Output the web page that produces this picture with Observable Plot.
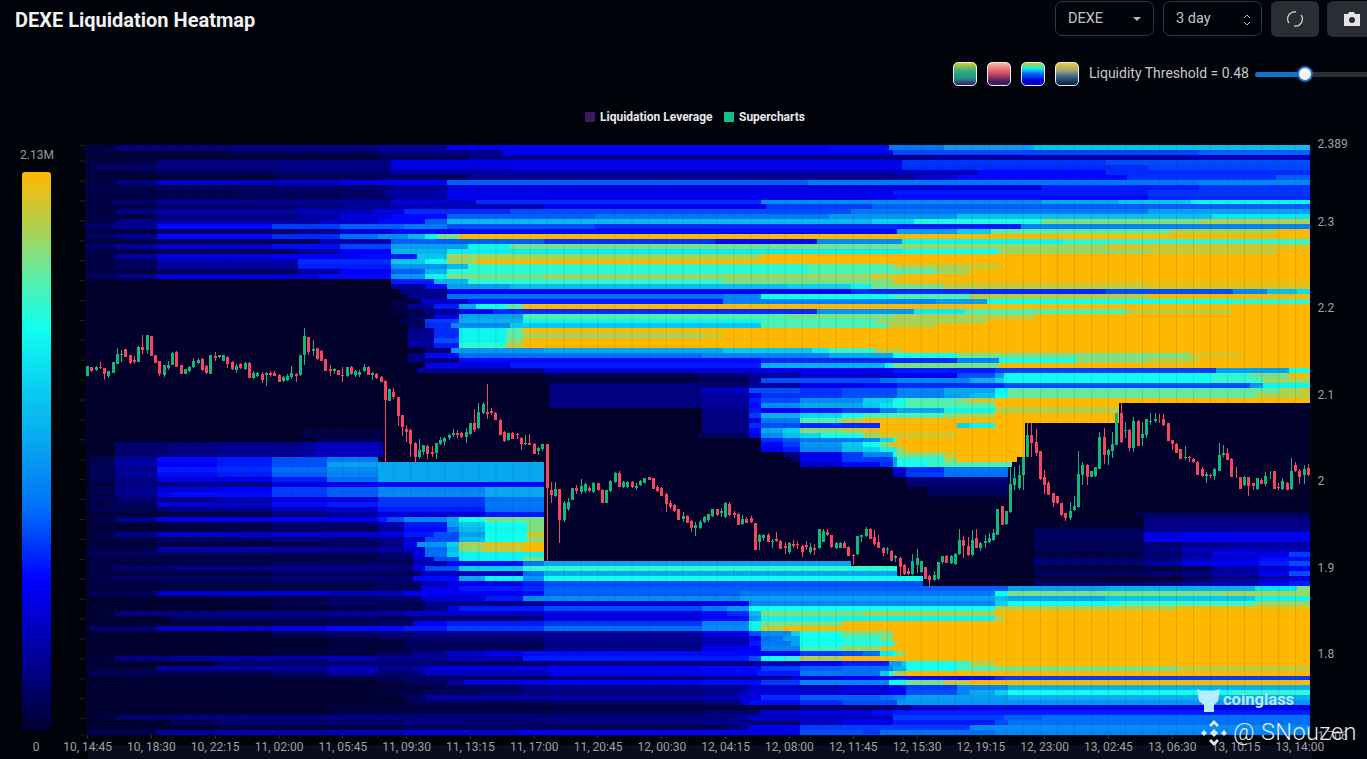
<!DOCTYPE html>
<html><head><meta charset="utf-8">
<script src="https://cdn.jsdelivr.net/npm/d3@7"></script>
<script src="https://cdn.jsdelivr.net/npm/@observablehq/plot@0.6"></script>
<style>
html,body{margin:0;height:759px;overflow:hidden;background:#01030a;font-family:Roboto,sans-serif;color:#ccc}
.abs{position:absolute;white-space:nowrap}
#chart{position:absolute;left:0;top:0;width:1367px;height:759px}
#chart svg{background:transparent;display:block}
.sel{border:1px solid #33363c;border-radius:7px;height:35px;top:1px;box-sizing:border-box;line-height:33px;font-size:14.5px;color:#c4c4c4;padding-left:12px}
.btn{background:#2a2d33;border-radius:6px;height:36px;top:1px}
.sw{top:62px;width:22px;height:22px;border:1px solid #eee;border-radius:5px}
</style></head><body>
<div style="position:absolute;left:88px;top:745px;width:1224px;height:14px;background:#080c1c"></div>
<div id="chart"></div>
<div class="abs" id="title" style="left:15px;top:8px;font-size:20px;font-weight:700;color:#f2f2f2">DEXE Liquidation Heatmap</div>
<div class="abs sel" style="left:1055px;width:99px">DEXE<span style="position:absolute;left:77px;top:15px;border:4px solid transparent;border-top:4px solid #bbb"></span></div>
<div class="abs sel" style="left:1163px;width:99px">3 day<svg style="position:absolute;left:78px;top:10px" width="10" height="16"><path d="M2 6l3-3 3 3M2 10l3 3 3-3" stroke="#bbb" fill="none"/></svg></div>
<div class="abs btn" style="left:1271px;width:48px"><svg style="position:absolute;left:15px;top:9px" width="18" height="18"><path d="M3 13A7 7 0 0 1 10 2M15 5A7 7 0 0 1 8 16" stroke="#ccc" fill="none" stroke-width="1.3"/></svg></div>
<div class="abs btn" style="left:1327px;width:40px;border-radius:6px 0 0 6px"><svg style="position:absolute;left:16px;top:10px" width="18" height="16"><path d="M1 3h4l1-2h5l1 2h5v12H1z" fill="#e4e4e4"/><circle cx="9" cy="9" r="3" fill="#2a2d33"/></svg></div>
<div class="abs sw" style="left:953px;background:linear-gradient(#d8c828,#30b080 35%,#209088 70%,#3a1a6a)"></div>
<div class="abs sw" style="left:987px;background:linear-gradient(#f8b8a0,#d85060 45%,#401a60 85%)"></div>
<div class="abs sw" style="left:1021px;background:linear-gradient(#d8c030,#10f0e0 25%,#0060ff 50%,#0000d0 80%)"></div>
<div class="abs sw" style="left:1055px;background:linear-gradient(#e8d030,#a0a080 35%,#306080 65%,#0a1a40)"></div>
<div class="abs" style="left:1089px;top:65px;font-size:14px;color:#c8c8c8">Liquidity Threshold = 0.48</div>
<div class="abs" style="left:1255px;top:72px;width:50px;height:5px;border-radius:3px;background:#1570c8"></div>
<div class="abs" style="left:1305px;top:72px;width:62px;height:5px;background:#2c2e34"></div>
<div class="abs" style="left:1297px;top:66px;width:12px;height:12px;border-radius:50%;background:#f4f6fa;border:2px solid #1570c8"></div>
<div class="abs" style="left:585px;top:112px;width:10px;height:10px;background:#3c1a62"></div>
<div class="abs" style="left:600px;top:110px;font-size:12px;font-weight:700;color:#e8e8e8">Liquidation Leverage</div>
<div class="abs" style="left:724px;top:112px;width:10px;height:10px;background:#10c088"></div>
<div class="abs" style="left:739px;top:110px;font-size:12px;font-weight:700;color:#e8e8e8">Supercharts</div>
<div class="abs" style="left:20px;top:148px;width:32px;text-align:center;font-size:12px;color:#9a9a9a">2.13M</div>
<div class="abs" id="bar" style="left:22px;top:172px;width:29px;height:560px;border-radius:3px"></div>
<div class="abs" style="left:20px;top:740px;width:32px;text-align:center;font-size:12px;color:#9a9a9a">0</div>
<svg class="abs" style="left:1196px;top:686px" width="27" height="27"><path d="M1 3l5 2h12l6-2-2 12-4 4v7h-10v-7l-5-4z" fill="#b6ecfc"/></svg>
<div class="abs" style="left:1223px;top:690px;font-size:16.5px;font-weight:700;color:#b6ecfc">coinglass</div>
<svg class="abs" style="left:1200px;top:719px" width="28" height="28"><g fill="#e6e6e6"><path d="M14 1l5 5-2 2-3-3-3 3-2-2zM14 27l5-5-2-2-3 3-3-3-2 2zM1 14l3-3 3 3-3 3zM27 14l-3-3-3 3 3 3zM14 10l4 4-4 4-4-4z"/></g></svg>
<div class="abs" style="left:1233px;top:718px;font-size:23.5px;font-weight:300;color:#e8e8e8;letter-spacing:.4px">@ SNouzen</div>
<script>
// ---- axes text ----
const priceTicks = [2.389, 2.3, 2.2, 2.1, 2, 1.9, 1.8, 1.706];
const sideTicks = [2.388,2.370,2.347,2.324,2.301,2.278,2.255,2.232,2.209,2.186,2.163,2.140,2.117,2.094,2.071,2.048,2.025,2.002,1.979,1.956,1.933,1.910,1.887,1.864,1.841,1.818,1.795,1.772,1.749,1.726,1.707];
const timeLabels = ["10, 14:45","10, 18:30","10, 22:15","11, 02:00","11, 05:45","11, 09:30","11, 13:15","11, 17:00","11, 20:45","12, 00:30","12, 04:15","12, 08:00","12, 11:45","12, 15:30","12, 19:15","12, 23:00","13, 02:45","13, 06:30","13, 10:15","13, 14:00"];
const timeCols = [0,15,30,45,60,75,90,105,120,135,150,165,180,195,210,225,240,255,270,285];
// ---- colour ramp, liquidity as % of 2.13M ----
const rampLevels = [0,10,27,40,52,60,72,80,90,100];
const rampColors = ["#00002a","#000080","#0000ff","#0070f8","#08a8f0","#08c8f0","#10fff0","#50f0b0","#b0d050","#ffb800"];
const rowTop = 2.388, rowStep = 0.005727;
// ---- heat rows, top to bottom: start candle, level, start candle, level ... ----
const heatRows = [
[0,3,7,10,69,14,85,26,175,28,189,42,202,50,223,58],
[0,3,35,6,69,10,98,24,190,35,262,38],
[0,2,69,6,90,12,200,15,260,18],
[0,3,17,10,72,24,192,33,240,36],
[0,3,2,7,7,8,17,10,72,22,100,24,192,32,250,35],
[0,2,17,6,45,8,72,14,100,15,190,18,210,28,240,32],
[0,2,45,6,72,6,90,12,195,20,205,28,245,33,280,38],
[0,3,7,10,17,20,60,24,69,27,85,38,170,42,262,45],
[0,4,17,6,45,8,72,12,85,22,225,30,262,33],
[0,3,35,6,70,15,85,25,190,30,250,33],
[0,3,17,5,60,8,72,15,85,24,191,28,250,32],
[0,4,7,8,17,14,72,20,92,32,159,46,225,52,243,60,260,70],
[0,3,17,7,50,9,60,12,72,17,108,26,160,34,185,38],
[0,3,7,10,17,15,50,18,68,23,75,32,100,36,180,42,250,50],
[0,3,17,10,50,14,60,22,72,28,85,38,120,42,175,48,205,58,265,66],
[0,4,7,12,17,15,55,20,69,28,80,38,85,56,185,62,195,74,225,85,262,90],
[0,8,7,12,17,28,44,34,60,38,75,42,85,36,120,32,191,30,220,44],
[0,3,17,8,50,12,60,22,72,28,191,50,205,62,213,82,255,90,280,98],
[0,6,7,12,17,28,44,32,60,40,69,46,76,55,80,70,83,85,88,100],
[0,3,17,6,55,16,72,38,108,33,148,28,172,46,192,70,230,76],
[0,8,7,14,17,20,44,28,60,35,72,50,90,70,100,84,192,88,240,95],
[0,3,17,6,50,14,60,26,72,55,85,68,192,72,215,88,250,92,280,100],
[0,4,7,14,17,22,44,26,65,28,72,30,78,60,85,88,159,100],
[0,3,7,6,17,16,50,32,72,60,80,72,85,88,92,100],
[0,3,7,6,17,14,50,30,72,48,85,56,90,76,170,80,190,90,205,93,215,100],
[0,3,17,6,50,15,60,26,72,38,80,55,85,76,170,80,200,88,208,100],
[0,6,7,12,17,22,55,28,72,48,80,70,85,84,108,88,185,95,192,100],
[72,30,82,55,90,76,150,84,190,98],
[72,14,80,28,85,50,100,58,165,62,180,70,185,84,202,92,250,96],
[74,10,85,26,180,32,240,36,270,45,278,58,285,65],
[76,12,85,40,150,44,159,72,190,80,208,92,250,100],
[72,3,79,20,90,30,150,44,200,50,212,72,270,76],
[72,3,76,14,82,30,88,52,92,72,99,82,103,100],
[72,3,80,12,88,24,96,32,172,48,195,68,207,80,245,92,270,100],
[76,6,82,24,88,50,103,80,165,84,190,90,223,100],
[74,6,80,34,88,54,103,70,159,78,186,88,212,100],
[76,6,80,32,86,46,100,60,159,80,189,92,200,100],
[76,12,82,32,88,70,99,80,103,100],
[76,12,82,32,88,70,99,82,103,88,145,93,150,100],
[76,14,82,36,88,70,99,84,103,100],
[76,14,82,30,88,76,99,92,103,100],
[80,8,86,48,108,52,150,60,171,68,175,78,186,92,192,100],
[76,10,80,28,88,40,145,44,175,52,190,72,205,84,260,95,272,100],
[76,10,88,28,159,32,205,44,215,72,233,86,250,92,262,100],
[80,24,88,22,100,30,159,54,188,70,190,84,215,100],
[78,14,108,22,160,26,190,30,214,34,266,50,283,72],
[108,4,144,8,156,14,168,20,191,25,205,36,214,48,216,72,265,76,274,84,283,100],
[108,2,144,5,156,12,159,36,187,40,191,44,208,54,214,62,216,72,265,76,277,88],
[109,10,145,8,156,14,168,24,183,28,191,32,216,36,274,48,277,70],
[109,10,145,20,156,36,168,33,178,36,191,44,202,52,214,70,217,82,281,90,286,95],
[109,10,145,14,156,24,159,33,178,36,191,44,202,50,208,58,214,72,217,82,275,90],
[109,10,145,14,156,30,159,36,168,46,183,62,190,72,193,80,205,86,208,94,214,100],
[109,10,145,14,156,28,159,46,168,52,183,60,187,66,190,74,193,80,214,98,243,0],
[145,10,156,30,159,26,168,30,178,34,187,44,191,52,202,70,214,90,243,0],
[145,10,156,34,159,54,168,64,178,72,183,80,202,86,205,90,214,100,243,0],
[145,10,156,24,159,42,168,80,178,92,183,100,243,0],
[145,10,156,32,159,36,168,32,187,100,205,62,208,70,214,100,221,0],
[51,3,70,0,145,10,156,28,159,52,164,62,168,86,178,92,183,96,187,100,221,0],
[51,3,70,0,144,6,156,24,159,46,164,58,168,64,173,72,183,88,187,94,205,100,221,0],
[54,4,70,0,159,32,164,36,168,42,183,46,187,64,190,72,191,100,221,0],
[7,8,20,10,31,12,51,14,54,18,70,0,159,28,164,34,168,48,178,60,183,72,187,84,189,100,221,0],
[7,8,20,10,31,12,51,14,54,18,70,0,159,24,164,30,168,46,178,58,183,62,187,70,191,88,193,100,221,0],
[7,8,20,10,31,12,51,14,54,18,70,0,164,10,168,24,178,34,183,44,190,72,191,86,202,94,205,100,221,0],
[1,5,7,14,17,28,31,30,44,36,57,42,69,0,166,8,168,26,178,34,190,50,191,74,202,88,205,100,219,0],
[1,5,7,14,17,26,31,30,44,36,57,50,69,52,108,0,168,20,178,28,187,32,190,50,191,72,198,78,202,80,218,0],
[1,5,7,12,17,30,31,32,44,40,57,46,69,52,108,0,190,22,193,32,202,42,217,0],
[1,5,7,14,17,28,31,30,44,38,57,44,69,52,108,0,190,20,193,34,202,40,217,0],
[1,5,7,10,17,22,44,30,57,40,69,52,108,0,193,10,217,0],
[1,2,7,10,20,12,44,22,57,26,69,28,108,0,193,8,217,0],
[1,5,7,12,17,22,31,26,44,34,57,38,69,44,94,52,108,0,198,6,217,0],
[1,3,7,12,17,26,20,28,44,34,57,38,69,46,94,52,108,0,198,5,217,0],
[1,5,7,8,17,12,31,16,44,22,69,33,94,40,108,0],
[1,3,7,6,17,22,20,20,44,28,57,30,69,33,94,42,108,0],
[1,5,7,4,17,8,20,12,44,18,57,20,69,30,94,40,108,0],
[1,2,20,4,44,10,57,14,69,22,94,30,108,0,247,5],
[1,4,7,12,17,24,69,30,71,36,75,44,85,52,88,72,94,84,108,0,249,10],
[1,2,20,4,44,8,69,16,75,30,85,50,88,60,94,72,104,85,108,0,249,10],
[1,2,20,3,31,4,44,6,69,14,75,28,85,42,88,56,94,70,104,85,108,0,223,5,249,12],
[1,3,7,12,17,20,44,22,69,24,75,30,82,36,88,50,94,72,104,95,108,0,223,6,247,8,249,22,258,27],
[1,3,17,6,44,8,69,12,75,20,80,36,88,56,94,72,104,86,108,0,223,6,249,24,258,26,267,24],
[1,2,17,3,44,4,57,6,69,10,75,26,78,48,85,62,88,90,94,96,104,100,108,0,223,5,249,8,258,10,267,14],
[1,4,17,16,44,14,57,12,69,14,75,20,80,40,85,56,88,85,93,92,103,100,108,0,223,5,249,10,258,18],
[1,6,69,8,77,24,80,40,85,60,88,70,108,0,223,2,247,4,249,8,258,14,265,24,283,34],
[1,3,69,6,77,20,82,36,88,70,103,85,108,0,223,8,249,10,258,18,265,20,276,28],
[1,3,20,4,44,6,77,16,85,28,103,42,108,52,180,0,223,8,249,14,258,24,265,26,276,30,283,36],
[1,4,7,8,20,10,44,12,69,10,77,24,80,36,88,62,103,76,191,0,223,3,258,5,265,14,276,20,283,26],
[1,3,44,6,69,5,79,18,103,40,108,52,191,0,223,6,249,8,258,10,265,16,276,26,283,36],
[1,4,7,6,44,8,77,28,88,52,94,70,103,48,108,72,197,0,223,2,258,6,265,10,276,16,283,22],
[1,3,44,5,69,6,79,18,85,24,103,30,108,36,197,0,223,7,249,9,258,14,265,18,276,26,283,30],
[1,2,20,3,57,4,69,6,79,24,88,30,103,32,108,38,217,50,240,54,275,66,285,85],
[1,6,17,20,57,18,75,26,103,28,108,38,154,42,214,72,217,84,268,88],
[1,1,31,3,57,6,69,8,79,22,94,30,103,46,154,50,214,58,217,52,240,60,275,70],
[1,1,44,5,57,8,69,5,80,12,108,20,145,24,156,44,214,62,217,72,243,78,275,88],
[1,1,57,3,69,5,80,10,85,24,88,30,108,36,145,42,151,48,156,72,214,92,257,98],
[1,2,7,10,31,12,57,14,75,20,103,18,108,24,145,28,151,32,156,56,159,85,183,90,214,100],
[1,1,20,7,57,6,69,5,77,8,103,12,108,22,145,28,156,50,159,70,214,88,216,100],
[1,1,44,3,57,5,69,8,77,24,80,26,85,30,108,33,145,44,156,70,159,84,178,100],
[1,8,17,20,44,24,57,28,75,30,85,34,108,40,145,46,156,70,159,92,164,100],
[1,1,44,6,57,8,69,10,77,12,108,14,145,24,156,36,159,46,166,62,168,72,178,84,190,100],
[1,1,57,3,69,5,77,8,108,12,145,18,156,28,159,40,164,50,168,72,178,76,187,85,190,100],
[1,1,57,2,75,6,108,12,145,18,156,30,159,42,166,50,168,72,178,74,190,86,191,100],
[1,1,57,2,75,5,108,10,145,24,154,26,159,44,168,78,178,88,187,96,190,100],
[1,1,44,3,69,6,77,12,85,20,94,26,103,28,159,26,168,34,178,36,183,40,187,68,190,72,191,88,193,100],
[1,2,7,10,20,14,57,16,69,12,85,16,103,30,156,36,159,72,164,76,168,90,178,100],
[1,1,31,7,57,8,109,10,145,12,159,18,168,26,178,30,189,50,192,62,193,72,205,76,208,90,214,100],
[1,2,17,14,57,18,69,12,77,16,80,22,109,26,145,28,159,34,168,38,178,40,189,44,190,54,193,72,205,80,214,85,257,92],
[1,6,17,4,44,6,57,14,69,8,77,10,80,18,109,24,145,26,158,30,168,42,178,40,187,60,189,72,190,90,193,100],
[1,1,44,3,69,5,75,7,109,10,145,12,156,14,166,22,178,26,185,28,205,26,208,28,214,32,216,34],
[1,1,69,4,75,6,85,14,89,24,109,26,145,28,159,34,168,44,189,72,193,84,202,92,208,100],
[1,1,75,3,83,5,103,10,145,12,156,20,168,18,178,22,189,26,193,34,205,44,217,54],
[1,1,69,3,79,6,94,8,103,10,145,12,154,18,156,22,189,26,193,36,205,44,208,52,214,62,217,72,270,76],
[1,1,75,6,80,14,145,16,154,22,159,32,168,38,187,40,190,44,193,50,217,54],
[1,1,75,3,77,6,109,8,145,10,154,20,156,28,168,32,178,36,191,48],
[1,1,57,2,154,3,168,8,190,12,194,20,205,24],
[1,1,57,3,75,4,109,6,145,8,159,20,168,22,185,28,190,30],
[1,2,7,8,20,10,151,12,154,14,156,20,190,34,216,38,225,40],
[1,1,20,5,31,8,75,10,89,8,109,10,145,12,154,10,168,18,178,24,190,30,214,36,217,40],
[1,1,31,3,75,6,109,4,151,8,154,14,156,24,168,34,208,46],
[1,5,17,14,31,16,57,18,75,22,103,26,154,24,168,36,183,34,187,40,214,44]
];
// ---- 15-minute candles: open, high, low, close ----
const candles = [
[2.121,2.133,2.121,2.133],[2.132,2.132,2.126,2.127],[2.128,2.133,2.127,2.132],[2.131,2.137,2.129,2.130],[2.130,2.130,2.117,2.124],[2.121,2.127,2.119,2.127],[2.125,2.137,2.125,2.137],[2.135,2.153,2.135,2.147],[2.146,2.151,2.137,2.147],[2.152,2.152,2.143,2.143],
[2.146,2.146,2.135,2.136],[2.140,2.144,2.135,2.137],[2.137,2.156,2.137,2.155],[2.155,2.168,2.147,2.151],[2.151,2.168,2.147,2.168],[2.167,2.167,2.144,2.144],[2.146,2.146,2.136,2.136],[2.138,2.139,2.121,2.124],[2.122,2.134,2.120,2.134],[2.130,2.138,2.128,2.134],
[2.134,2.149,2.134,2.148],[2.149,2.150,2.131,2.131],[2.134,2.134,2.123,2.124],[2.124,2.129,2.124,2.129],[2.127,2.133,2.126,2.132],[2.132,2.142,2.130,2.139],[2.136,2.142,2.135,2.140],[2.141,2.142,2.127,2.128],[2.133,2.134,2.124,2.125],[2.124,2.146,2.124,2.145],
[2.144,2.149,2.138,2.142],[2.143,2.145,2.142,2.145],[2.139,2.146,2.138,2.145],[2.143,2.144,2.130,2.135],[2.137,2.138,2.128,2.129],[2.128,2.135,2.125,2.133],[2.135,2.136,2.129,2.130],[2.129,2.137,2.128,2.136],[2.136,2.137,2.119,2.119],[2.119,2.127,2.118,2.125],
[2.121,2.126,2.120,2.125],[2.124,2.126,2.113,2.117],[2.122,2.126,2.110,2.125],[2.125,2.127,2.120,2.122],[2.125,2.127,2.121,2.121],[2.122,2.123,2.114,2.114],[2.115,2.121,2.114,2.120],[2.117,2.123,2.115,2.121],[2.120,2.133,2.118,2.125],[2.124,2.125,2.114,2.121],
[2.122,2.146,2.121,2.146],[2.146,2.177,2.134,2.167],[2.166,2.166,2.146,2.149],[2.150,2.163,2.144,2.152],[2.153,2.153,2.140,2.141],[2.150,2.151,2.139,2.139],[2.141,2.141,2.127,2.127],[2.129,2.134,2.121,2.127],[2.127,2.130,2.124,2.129],[2.128,2.128,2.122,2.122],
[2.122,2.131,2.114,2.121],[2.121,2.131,2.120,2.131],[2.131,2.133,2.122,2.123],[2.122,2.128,2.120,2.127],[2.122,2.128,2.120,2.126],[2.127,2.135,2.126,2.131],[2.132,2.133,2.122,2.122],[2.122,2.126,2.117,2.125],[2.124,2.125,2.118,2.119],[2.120,2.121,2.114,2.114],
[2.115,2.116,2.0205,2.094],[2.092,2.106,2.092,2.106],[2.103,2.107,2.095,2.097],[2.097,2.097,2.063,2.075],[2.076,2.076,2.052,2.062],[2.060,2.065,2.045,2.056],[2.059,2.060,2.028,2.043],[2.044,2.045,2.020,2.028],[2.028,2.048,2.025,2.036],[2.033,2.042,2.030,2.041],
[2.040,2.041,2.025,2.031],[2.033,2.040,2.028,2.031],[2.032,2.044,2.025,2.044],[2.043,2.051,2.041,2.047],[2.045,2.051,2.040,2.050],[2.050,2.054,2.047,2.053],[2.053,2.060,2.051,2.055],[2.055,2.059,2.049,2.053],[2.055,2.057,2.050,2.051],[2.051,2.061,2.044,2.056],
[2.054,2.067,2.053,2.067],[2.067,2.083,2.057,2.059],[2.061,2.090,2.060,2.080],[2.078,2.091,2.077,2.089],[2.080,2.112,2.072,2.077],[2.081,2.084,2.076,2.079],[2.079,2.080,2.070,2.070],[2.070,2.071,2.053,2.053],[2.057,2.058,2.045,2.046],[2.047,2.055,2.046,2.055],
[2.055,2.056,2.048,2.048],[2.054,2.055,2.048,2.053],[2.050,2.051,2.036,2.043],[2.043,2.053,2.041,2.044],[2.044,2.054,2.041,2.042],[2.043,2.044,2.031,2.031],[2.034,2.039,2.030,2.038],[2.037,2.043,2.035,2.043],[2.043,2.043,1.908,1.992],[1.990,1.999,1.974,1.984],
[1.983,1.999,1.981,1.991],[1.991,1.991,1.928,1.955],[1.955,1.977,1.953,1.975],[1.967,1.980,1.965,1.976],[1.978,1.992,1.978,1.992],[1.992,1.995,1.985,1.988],[1.987,2.002,1.985,1.994],[1.988,1.999,1.986,1.996],[1.992,1.994,1.987,1.988],[1.987,1.999,1.986,1.998],
[1.997,1.998,1.988,1.990],[1.990,1.991,1.974,1.974],[1.975,1.990,1.974,1.990],[1.988,2.001,1.987,2.000],[1.999,2.010,1.998,2.009],[2.009,2.012,1.993,1.993],[1.993,2.000,1.992,1.999],[1.993,2.000,1.992,1.999],[1.999,2.000,1.992,1.993],[1.992,1.998,1.989,1.994],
[1.995,2.001,1.994,2.000],[1.998,2.003,1.997,2.003],[2.004,2.005,2.001,2.001],[2.003,2.003,1.991,1.991],[1.993,1.995,1.987,1.988],[1.992,1.993,1.982,1.983],[1.985,1.986,1.964,1.973],[1.974,1.978,1.967,1.970],[1.972,1.973,1.964,1.965],[1.967,1.967,1.955,1.955],
[1.956,1.964,1.953,1.959],[1.960,1.961,1.951,1.951],[1.954,1.955,1.941,1.946],[1.946,1.953,1.936,1.949],[1.946,1.955,1.944,1.953],[1.953,1.960,1.951,1.958],[1.955,1.962,1.953,1.962],[1.959,1.968,1.958,1.967],[1.967,1.968,1.960,1.961],[1.963,1.969,1.958,1.965],
[1.958,1.976,1.957,1.974],[1.973,1.976,1.960,1.961],[1.963,1.965,1.957,1.961],[1.962,1.963,1.949,1.949],[1.950,1.961,1.949,1.956],[1.956,1.958,1.951,1.951],[1.957,1.959,1.951,1.952],[1.951,1.951,1.920,1.920],[1.930,1.939,1.920,1.938],[1.934,1.939,1.931,1.937],
[1.937,1.940,1.930,1.930],[1.930,1.933,1.923,1.931],[1.933,1.941,1.929,1.931],[1.931,1.932,1.921,1.921],[1.925,1.929,1.916,1.923],[1.918,1.929,1.916,1.928],[1.927,1.932,1.922,1.925],[1.927,1.931,1.921,1.926],[1.925,1.926,1.912,1.918],[1.926,1.931,1.920,1.924],
[1.918,1.928,1.916,1.924],[1.923,1.927,1.914,1.920],[1.922,1.944,1.921,1.944],[1.930,1.944,1.929,1.942],[1.941,1.945,1.936,1.937],[1.937,1.938,1.923,1.924],[1.922,1.930,1.921,1.928],[1.923,1.930,1.922,1.928],[1.928,1.931,1.922,1.922],[1.924,1.925,1.913,1.913],
[1.914,1.915,1.903,1.913],[1.915,1.936,1.914,1.936],[1.935,1.938,1.930,1.937],[1.936,1.947,1.935,1.945],[1.945,1.946,1.933,1.933],[1.935,1.943,1.925,1.927],[1.930,1.938,1.922,1.922],[1.923,1.924,1.913,1.917],[1.920,1.924,1.915,1.921],[1.919,1.920,1.908,1.908],
[1.911,1.914,1.906,1.913],[1.911,1.912,1.889,1.900],[1.903,1.904,1.891,1.893],[1.896,1.899,1.891,1.892],[1.892,1.916,1.891,1.908],[1.903,1.921,1.894,1.911],[1.895,1.908,1.894,1.908],[1.900,1.901,1.887,1.887],[1.890,1.891,1.878,1.886],[1.885,1.896,1.884,1.891],
[1.887,1.906,1.886,1.906],[1.906,1.913,1.904,1.913],[1.913,1.914,1.905,1.905],[1.905,1.914,1.904,1.913],[1.904,1.917,1.903,1.916],[1.915,1.944,1.914,1.932],[1.932,1.936,1.911,1.925],[1.925,1.935,1.913,1.914],[1.914,1.943,1.913,1.932],[1.934,1.945,1.923,1.923],
[1.923,1.930,1.919,1.928],[1.928,1.937,1.922,1.931],[1.929,1.940,1.928,1.934],[1.932,1.945,1.931,1.940],[1.938,1.968,1.937,1.968],[1.971,1.971,1.949,1.949],[1.950,1.965,1.949,1.965],[1.964,2.015,1.963,1.996],[1.995,2.016,1.990,2.003],[1.992,2.018,1.990,2.007],
[2.007,2.028,1.990,2.028],[2.028,2.067,2.028,2.053],[2.053,2.067,2.028,2.044],[2.045,2.060,2.029,2.032],[2.035,2.035,2.001,2.002],[2.004,2.013,1.985,1.995],[1.998,2.000,1.984,1.984],[1.986,1.986,1.970,1.975],[1.982,1.982,1.973,1.975],[1.974,1.974,1.960,1.961],
[1.963,1.963,1.954,1.957],[1.957,1.976,1.955,1.965],[1.966,1.982,1.965,1.971],[1.970,2.034,1.969,2.008],[2.007,2.022,1.995,2.018],[2.018,2.020,1.995,2.005],[2.005,2.011,2.004,2.011],[2.006,2.016,2.005,2.016],[2.014,2.057,2.014,2.051],[2.051,2.061,2.020,2.030],
[2.030,2.037,2.018,2.036],[2.035,2.057,2.026,2.043],[2.041,2.079,2.041,2.078],[2.078,2.090,2.044,2.045],[2.058,2.068,2.050,2.059],[2.059,2.060,2.034,2.038],[2.038,2.074,2.033,2.069],[2.069,2.070,2.040,2.040],[2.049,2.068,2.040,2.054],[2.053,2.072,2.050,2.071],
[2.068,2.078,2.064,2.069],[2.069,2.079,2.067,2.072],[2.072,2.077,2.067,2.071],[2.072,2.077,2.063,2.064],[2.067,2.067,2.046,2.046],[2.047,2.047,2.036,2.043],[2.043,2.044,2.032,2.032],[2.037,2.037,2.025,2.025],[2.026,2.040,2.024,2.028],[2.028,2.029,2.022,2.026],
[2.025,2.027,2.021,2.022],[2.022,2.023,2.007,2.007],[2.014,2.016,2.005,2.006],[2.006,2.010,1.998,2.008],[2.007,2.008,2.003,2.006],[2.006,2.015,2.001,2.014],[2.012,2.044,2.011,2.030],[2.030,2.041,2.028,2.032],[2.032,2.038,2.024,2.024],[2.025,2.026,2.004,2.005],
[2.005,2.016,2.003,2.004],[2.004,2.005,1.991,1.991],[1.995,2.006,1.994,2.005],[2.004,2.005,1.982,1.994],[1.998,1.998,1.990,1.994],[1.991,2.003,1.990,2.003],[2.001,2.003,1.996,1.996],[1.996,2.010,1.994,2.006],[2.004,2.012,2.002,2.005],[2.012,2.012,1.991,1.991],
[1.993,1.997,1.990,1.992],[1.991,2.003,1.990,2.000],[1.998,1.999,1.990,1.990],[1.991,2.026,1.990,2.012],[2.018,2.022,2.010,2.011],[2.011,2.014,1.996,2.005],[2.007,2.018,1.996,2.014],[2.015,2.019,2.006,2.007]
];

const cells = [];
heatRows.forEach((row, r) => {
  for (let k = 0; k < row.length; k += 2) {
    const next = k + 2 < row.length ? row[k + 2] : candles.length;
    if (row[k + 1] > 0) cells.push({
      x1: row[k] - 0.5, x2: next - 0.5,
      y1: rowTop - r * rowStep, y2: rowTop - (r + 1) * rowStep,
      level: row[k + 1]
    });
  }
});
const bars = candles.map(([o, h, l, c], i) => ({i, o, h, l, c, color: c >= o ? "#10b87c" : "#f6465d"}));
const hourCols = d3.range(0, candles.length, 4);

const chart = Plot.plot({
  width: 1367, height: 759,
  marginLeft: 85, marginRight: 57, marginTop: 145, marginBottom: 24,
  style: {background: "transparent", fontFamily: "Roboto, sans-serif", fontSize: "12px"},
  x: {domain: [-0.5, candles.length - 0.5]},
  y: {domain: [rowTop - heatRows.length * rowStep, rowTop]},
  color: {type: "linear", domain: rampLevels, range: rampColors, interpolate: "rgb"},
  marks: [
    Plot.frame({fill: rampColors[0], stroke: "none"}),
    Plot.rect(cells, {x1: "x1", x2: "x2", y1: "y1", y2: "y2", fill: "level", shapeRendering: "crispEdges"}),
    Plot.ruleX(hourCols, {stroke: "#402000", strokeOpacity: 0.12, strokeWidth: 1}),
    Plot.ruleX(bars, {x: "i", y1: "l", y2: "h", stroke: "color", strokeWidth: 1, shapeRendering: "crispEdges"}),
    Plot.ruleX(bars, {x: "i", y1: "o", y2: "c", stroke: "color", strokeWidth: 3, shapeRendering: "crispEdges"}),
    Plot.axisX({ticks: timeCols, tickFormat: (d, i) => timeLabels[timeCols.indexOf(d)], tickSize: 4, tickPadding: 3, label: null, stroke: "#333", fill: "#a0a0a0"}),
    Plot.axisY({anchor: "right", ticks: priceTicks, tickFormat: d => String(d), tickSize: 0, tickPadding: 7, label: null, fill: "#a0a0a0"}),
    Plot.axisY({anchor: "left", ticks: sideTicks, tickFormat: () => "", tickSize: 5, label: null, stroke: "#222"})
  ]
});
document.getElementById("chart").append(chart);
document.getElementById("bar").style.background =
  "linear-gradient(to top," + rampColors.map((c, i) => c + " " + rampLevels[i] + "%").join(",") + ")";
</script>
</body></html>
